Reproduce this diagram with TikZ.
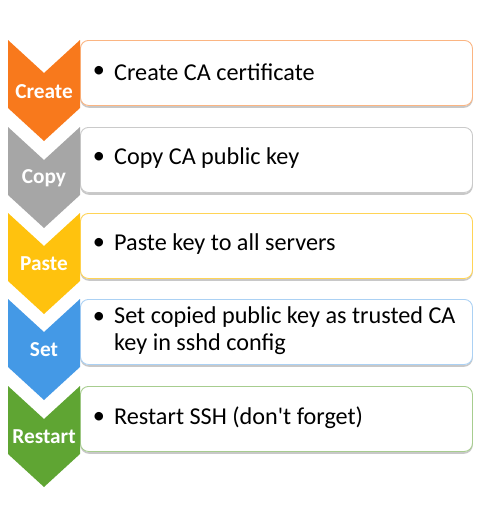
\documentclass[tikz,border=0pt]{standalone}
\usepackage{fontspec}
\setmainfont{Carlito}
\definecolor{cOrange}{HTML}{F8791C}
\definecolor{cGray}{HTML}{A6A6A6}
\definecolor{cYellow}{HTML}{FFC20E}
\definecolor{cBlue}{HTML}{4499E6}
\definecolor{cGreen}{HTML}{5FA533}
\definecolor{cShadow}{HTML}{C8C8C8}
\tikzset{
  chev/.style={fill=#1, draw=none},
  chevlabel/.style={text=white, font=\bfseries\fontsize{21.3}{24}\selectfont, inner sep=0pt},
  stepbox/.style={draw=#1, line width=0.9pt, fill=white, rounded corners=8pt, anchor=north west,
    minimum width=392pt, minimum height=65pt, inner sep=0pt},
  boxshadow/.style={draw=cShadow, line width=1.6pt, rounded corners=8pt},
  bul/.style={font=\fontsize{24.2}{27}\selectfont, inner sep=0pt},
  bodytext/.style={font=\fontsize{24.2}{27}\selectfont, inner sep=0pt, anchor=west, align=left},
}
\newcommand{\chevron}[2]{%
  \fill[#1] (8,#2) -- (44,#2+33) -- (80,#2) -- (80,#2+68) -- (44,#2+101) -- (8,#2+68) -- cycle;}
\begin{document}
\begin{tikzpicture}[x=1pt,y=-1pt]
\useasboundingbox (0,0) rectangle (499,530);
% shadows
\foreach \t in {40,127,213,299,386}{
  \draw[boxshadow] (81,\t+2) rectangle (472,\t+67);
}
% boxes
\node[stepbox=cOrange!55] (b1) at (80,40) {};
\node[stepbox=cGray!60] (b2) at (80,127) {};
\node[stepbox=cYellow!70] (b3) at (80,213) {};
\node[stepbox=cBlue!45] (b4) at (80,299) {};
\node[stepbox=cGreen!55] (b5) at (80,386) {};
% chevrons
\chevron{cOrange}{40}
\chevron{cGray}{127}
\chevron{cYellow}{213}
\chevron{cBlue}{299}
\chevron{cGreen}{386}
% chevron labels
\node[chevlabel] (l1) at (44,92) {Create};
\node[chevlabel] (l2) at (44,178) {Copy};
\node[chevlabel] (l3) at (44,264) {Paste};
\node[chevlabel] (l4) at (44,350) {Set};
\node[chevlabel] (l5) at (44,437) {Restart};
% bullets
\node[bul] (d1) at (99,72) {\textbullet};
\node[bul] (d2) at (99,158) {\textbullet};
\node[bul] (d3) at (99,244) {\textbullet};
\node[bul] (d4) at (99,318) {\textbullet};
\node[bul] (d5) at (99,418) {\textbullet};
% texts
\node[bodytext] (t1) at (114,72) {Create CA certificate};
\node[bodytext] (t2) at (114,158) {Copy CA public key};
\node[bodytext] (t3) at (114,244) {Paste key to all servers};
\node[bodytext, anchor=north west] (t4) at (114,306) {Set copied public key as trusted CA\\key in sshd config};
\node[bodytext] (t5) at (114,418) {Restart SSH (don\textquotesingle t forget)};
\end{tikzpicture}
\end{document}
